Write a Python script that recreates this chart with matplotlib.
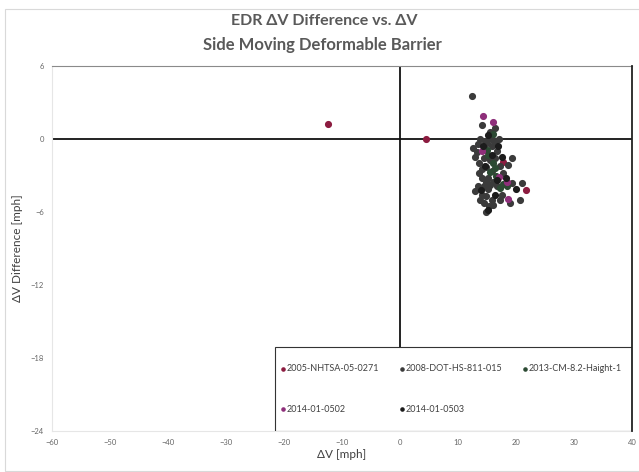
import matplotlib
matplotlib.use("Agg")
import matplotlib.pyplot as plt
from matplotlib.patches import Rectangle

plt.rcParams['font.family'] = ['Lato', 'DejaVu Sans']

# series data: delta-V [mph] and delta-V difference [mph]
nhtsa_2005_x = [-12.5, 4.5, 17.8, 21.8]
nhtsa_2005_y = [1.2, 0.0, -1.9, -4.2]

dot_2008_x = [12.4, 14.1, 15.5, 16.4, 13.8, 14.7, 15.5, 16.4, 17.1, 12.6, 14.9, 15.8, 16.7,
              12.9, 14.4, 15.5, 16.4, 19.3, 18.7, 14.9, 14.1, 17.8, 14.1, 15.2, 16.1, 19.3,
              21.0, 14.4, 15.2, 16.7, 17.5, 14.1, 14.9, 15.8, 20.7, 19.0, 16.1, 14.9, 14.4,
              13.5, 15.0, 16.0, 13.2, 13.7, 15.8, 17.3, 13.6, 14.8, 15.6, 13.4, 13.0, 13.8,
              15.4, 17.2]
dot_2008_y = [3.5, 1.15, 0.6, 0.9, 0.0, -0.2, 0.1, -0.3, 0.0, -0.77, -0.9, -0.6, -1.0,
              -1.45, -1.6, -1.7, -1.6, -1.6, -2.1, -2.3, -2.5, -2.8, -3.2, -3.2, -3.5, -3.6,
              -3.6, -3.9, -4.1, -3.9, -4.6, -4.6, -4.7, -5.0, -5.0, -5.3, -5.4, -6.0, -5.3,
              -0.4, -0.3, -0.1, -1.1, -2.0, -2.6, -2.2, -2.8, -3.5, -3.8, -3.9, -4.3, -5.0,
              -5.5, -5.0]

cm_2013_x = [16.1, 15.5, 15.2, 16.0, 16.6, 17.2, 17.8, 18.5, 15.0, 16.3]
cm_2013_y = [0.45, -2.7, -1.3, -2.0, -3.0, -4.05, -3.7, -3.9, -0.9, -2.4]

sae_0502_x = [14.3, 16.0, 14.1, 17.0, 18.4, 18.7]
sae_0502_y = [1.9, 1.4, -1.0, -3.1, -3.5, -4.9]

sae_0503_x = [15.1, 14.3, 16.9, 15.9, 17.5, 14.6, 16.8, 18.2, 20.0, 14.0, 16.4, 15.2]
sae_0503_y = [0.3, -0.6, -0.6, -1.3, -1.5, -2.2, -3.4, -3.2, -4.1, -4.2, -4.6, -5.8]

fig = plt.figure(figsize=(6.39, 4.72), dpi=100)
fig.patches.append(Rectangle((5 / 639, 0.003), 0.995, 1 - 9 / 472 - 0.003,
                             transform=fig.transFigure, fill=False,
                             edgecolor='#d9d9d9', linewidth=0.8))
ax = fig.add_axes([52 / 639, 1 - 431 / 472, 580 / 639, 365 / 472])

ms = 17
h05 = ax.scatter(nhtsa_2005_x, nhtsa_2005_y, s=ms, color='#8c1c40', label='2005-NHTSA-05-0271', zorder=3)
h08 = ax.scatter(dot_2008_x, dot_2008_y, s=ms, color='#3b3b3b', label='2008-DOT-HS-811-015', zorder=3)
h13 = ax.scatter(cm_2013_x, cm_2013_y, s=ms, color='#2c4a33', label='2013-CM-8.2-Haight-1', zorder=3)
h02 = ax.scatter(sae_0502_x, sae_0502_y, s=ms, color='#8e2f7a', label='2014-01-0502', zorder=3)
h03 = ax.scatter(sae_0503_x, sae_0503_y, s=ms, color='#1c1c1c', label='2014-01-0503', zorder=3)

ax.set_xlim(-60, 40)
ax.set_ylim(-24, 6)
ax.set_xticks(range(-60, 41, 10))
ax.set_yticks(range(-24, 7, 6))
ax.tick_params(length=0, labelsize=5.5, labelcolor='#666666', pad=6)

# axes cross at zero
ax.axhline(0, color='#111111', linewidth=1.3, zorder=2)
ax.axvline(0, color='#111111', linewidth=1.3, zorder=2)

ax.spines['top'].set_color('#8a8a8a')
ax.spines['top'].set_linewidth(0.8)
ax.spines['right'].set_color('#222222')
ax.spines['right'].set_linewidth(1.3)
ax.spines['right'].set_zorder(6)
ax.spines['left'].set_color('#e6e6e6')
ax.spines['bottom'].set_color('#e6e6e6')

ax.set_xlabel('ΔV [mph]', fontsize=8.5, color='#404040', labelpad=2)
ax.set_ylabel('ΔV Difference [mph]', fontsize=8.5, color='#404040', labelpad=5)
fig.text(0.508, 1 - 21 / 472, 'EDR ΔV Difference vs. ΔV', ha='center', va='center',
         fontsize=11.5, color='#595959', weight='bold')
fig.text(0.505, 1 - 45 / 472, 'Side Moving Deformable Barrier', ha='center', va='center',
         fontsize=12, color='#595959', weight='bold')

# legend box in the lower right corner of the plot area
ax.add_patch(Rectangle((0.384, 0.0), 0.616, 0.23, transform=ax.transAxes,
                       facecolor='white', edgecolor='#333333', linewidth=0.8, zorder=4))
handles = [h05, h02, h08, h03, h13]
leg = ax.legend(handles=handles, labels=[h.get_label() for h in handles],
                loc='center', bbox_to_anchor=(0.387, 0.0, 0.600, 0.23), mode='expand',
                ncol=3, fontsize=6.5, frameon=False, borderpad=0.3, borderaxespad=0,
                labelspacing=3.5, handletextpad=0.05, markerscale=0.55,
                columnspacing=1.0, handlelength=0.8)
leg.set_zorder(5)
for t in leg.get_texts():
    t.set_color('#404040')

fig.savefig('out.png', dpi=100)
